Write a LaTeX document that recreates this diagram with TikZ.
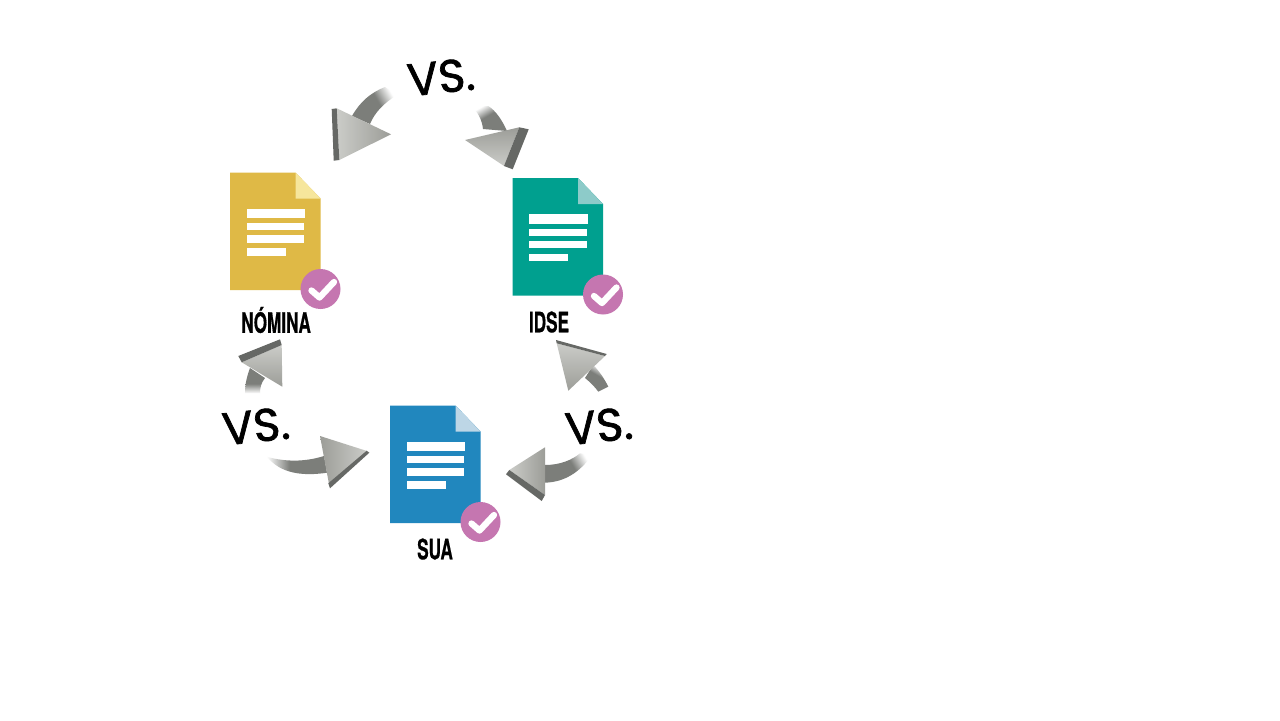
\documentclass[tikz,border=0pt]{standalone}
\usepackage{fontspec}
\usetikzlibrary{positioning}
\newfontfamily\labelfont[BoldFeatures={FakeBold=0.8}]{TeX Gyre Heros}
\newfontfamily\vsfont[FakeBold=1.6]{Poppins}

\definecolor{DocYellow}{HTML}{DFB946}
\definecolor{FoldYellow}{HTML}{F6E69C}
\definecolor{DocTeal}{HTML}{00A08F}
\definecolor{FoldTeal}{HTML}{8DCBC9}
\definecolor{DocBlue}{HTML}{2187BE}
\definecolor{FoldBlue}{HTML}{BDD6E6}
\definecolor{CheckPink}{HTML}{C576B0}
\definecolor{TailGray}{HTML}{7C7E7A}
\definecolor{EdgeGray}{HTML}{666865}
\definecolor{HeadLight}{HTML}{CBCCC8}
\definecolor{HeadDark}{HTML}{9C9D98}

\pgfdeclareverticalshading{TailFade}{100bp}{color(0bp)=(TailGray); color(56bp)=(TailGray); color(75bp)=(white); color(100bp)=(white)}

% one page of the cycle, (#1,#2) is its top left corner
\newcommand{\DocIcon}[5]{
	\begin{scope}[shift={(#1,#2)}]
		\fill [#3] (0,0) -- (65.5,0) -- (90.5,26) -- (90.5,117.5) -- (0,117.5) -- cycle;
		\fill [#4] (65.5,0) -- (90.5,26) -- (65.5,26) -- cycle;
		\fill [white] (16.5,36) rectangle (75,45.5);
		\fill [white] (16.5,50.5) rectangle (74,57.5);
		\fill [white] (16.5,62.5) rectangle (74,70);
		\fill [white] (16.5,75.5) rectangle (55.5,83);
		\node (#5) at (90.5,116.5) [Badge] {};
		\draw [Check] (81.5,118) -- (89.5,125) -- (104,109.5);
	\end{scope}
}

\begin{document}
\begin{tikzpicture}[x=0.02cm,y=-0.02cm]
	\tikzstyle{Badge}	= [circle, fill=CheckPink, minimum size=0.8cm, inner sep=0pt]
	\tikzstyle{Check}	= [white, line width=3.6pt, line cap=round, line join=round]
	\tikzstyle{DocLabel}	= [font=\labelfont\bfseries\fontsize{16}{16}\selectfont, xscale=0.61, inner sep=0pt]
	\tikzstyle{VsLabel}	= [font=\vsfont\fontsize{26}{26}\selectfont, inner sep=0pt]
	\tikzstyle{Edge}	= [fill=EdgeGray]
	\tikzstyle{Head}	= [top color=HeadLight, bottom color=HeadDark]
	\tikzstyle{Tail}	= [shading=TailFade]

	\useasboundingbox (0,0) rectangle (1280,720);
	\fill [white] (0,0) rectangle (1280,720);

	\DocIcon{230}{172.5}{DocYellow}{FoldYellow}{badge1}
	\DocIcon{512.5}{178}{DocTeal}{FoldTeal}{badge2}
	\DocIcon{390}{405.5}{DocBlue}{FoldBlue}{badge3}

	\node (nomina) at (276,320) [DocLabel] {NÓMINA};
	\node (idse) at (549,322) [DocLabel] {IDSE};
	\node (sua) at (435,549) [DocLabel] {SUA};

	\node (vs1) at (441,77) [VsLabel, rotate=6] {VS.};
	\node (vs2) at (256,426) [VsLabel, rotate=6] {VS.};
	\node (vs3) at (599,426) [VsLabel, rotate=6] {VS.};

	% top left
	\shade [Tail, shading angle=-60] (385,87) .. controls (370,93) and (360,102) .. (352,116) -- (370,124) .. controls (375,112) and (384,103) .. (397,95) -- cycle;
	\shade [Head, shading angle=90] (336.7,108.3) -- (391,134.3) -- (339.3,160) -- cycle;
	\fill [Edge] (331.7,109) -- (336.7,108.3) -- (339.3,160) -- (333.7,160.7) -- cycle;

	% top right
	\shade [Tail, shading angle=30] (471.7,106.7) .. controls (478,112) and (482,120) .. (483,129) -- (507,131) .. controls (502,120) and (496,111) .. (488.3,106) -- cycle;
	\shade [Head, shading angle=180] (465,140) -- (519.3,127.3) -- (504,166) -- cycle;
	\fill [Edge] (519.3,127.3) -- (528.7,129.3) -- (512.7,169.3) -- (504,166) -- cycle;

	% lower left, going up
	\shade [Tail, shading angle=180] (245,393.3) .. controls (245,384) and (247,376) .. (250,368) -- (265,378) .. controls (261,383) and (260,388) .. (260,393.3) -- cycle;
	\shade [Head, shading angle=0] (241.7,362.3) -- (281.7,345) -- (282.3,386.7) -- cycle;
	\fill [Edge] (238.3,356) -- (280,339.3) -- (281.7,345) -- (241.7,362.3) -- cycle;

	% lower left, going right
	\shade [Tail, shading angle=90] (266.7,456.7) .. controls (285,462) and (305,462) .. (324,456) -- (327,472.7) .. controls (305,476) and (285,474) .. (271.7,461.7) -- cycle;
	\shade [Head, shading angle=-90] (320,436) -- (367,451) -- (329,484) -- cycle;
	\fill [Edge] (366.7,450.7) -- (369.3,452.7) -- (330,488.3) -- (328.3,483.3) -- cycle;

	% lower right, going up
	\shade [Tail, shading angle=-30] (608.3,386.7) .. controls (604,378) and (599,371) .. (593.3,365) -- (585,378) .. controls (590,382) and (595,387) .. (598.3,391.7) -- cycle;
	\shade [Head, shading angle=0] (556.7,343.3) -- (605,356) -- (568.3,390.7) -- cycle;
	\fill [Edge] (556,340) -- (606.7,354) -- (605,356) -- (556.7,343.3) -- cycle;

	% lower right, going left
	\shade [Tail, shading angle=-60] (580,453.3) .. controls (572,460) and (560,465) .. (545,465) -- (545,482.7) .. controls (565,482) and (580,472) .. (592,455) -- cycle;
	\shade [Head, shading angle=90] (545,447.3) -- (509.3,470) -- (545,495) -- cycle;
	\fill [Edge] (509.3,470) -- (506,474.3) -- (541.7,501) -- (545,495) -- cycle;
\end{tikzpicture}
\end{document}
